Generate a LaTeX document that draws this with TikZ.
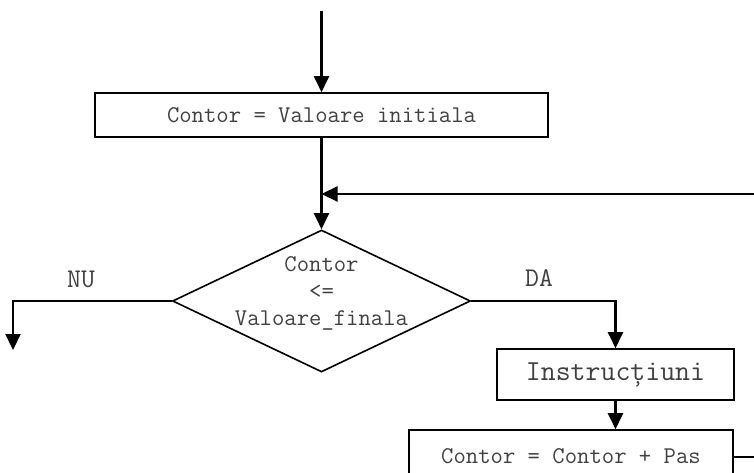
\documentclass[tikz,border=0pt]{standalone}
\usepackage{fontspec}
\usetikzlibrary{arrows.meta,shapes.geometric}
\begin{document}
\begin{tikzpicture}[x=1pt,y=-1pt,
  arr/.style={line width=2.2pt,-{Triangle[length=16pt,width=15pt]}},
  boxa/.style={draw,line width=1.6pt,rectangle,inner sep=0pt},
  txt/.style={font=\ttfamily\fontsize{24}{28}\selectfont,text=black!75},
  lbl/.style={font=\ttfamily\fontsize{27}{30}\selectfont,text=black!75}]
\path[use as bounding box,clip] (0,0) rectangle (754,473);

\node[boxa,minimum width=453pt,minimum height=44pt,txt] (box1) at (321.5,115) {\raisebox{-2pt}{Contor = Valoare initiala}};
\node[draw,diamond,line width=1.6pt,minimum width=298pt,minimum height=142pt,inner sep=0pt] (dec) at (321.5,301) {};
\node[txt,align=center,inner sep=0pt] (dect) at (321.5,293) {Contor\\[-1pt]<=\\[-1pt]Valoare\_finala};
\node[boxa,minimum width=237pt,minimum height=51pt,font=\ttfamily\fontsize{29}{32}\selectfont,text=black!75] (box2) at (615.5,374.5) {Instrucțiuni};
\node[boxa,minimum width=324pt,minimum height=54pt,txt] (box3) at (571,457) {\raisebox{2pt}{Contor = Contor + Pas}};

\node[lbl] (nu) at (81,279) {NU};
\node[lbl] (da) at (539,278) {DA};

\coordinate (start) at (321.5,11);
\coordinate (join) at (321.5,194);
\coordinate (nuend) at (13,350);
\coordinate (loopr) at (775,457);

\draw[arr] (start) -- (start |- box1.north);
\draw[arr] (box1.south) -- (dec.north);
\draw[arr] (box3.east) -- (loopr) |- (join);
\draw[arr] (dec.west) -| (nuend);
\draw[arr] (dec.east) -| (box2.north);
\draw[arr] (box2.south) -- (box2.south |- box3.north);
\end{tikzpicture}
\end{document}
